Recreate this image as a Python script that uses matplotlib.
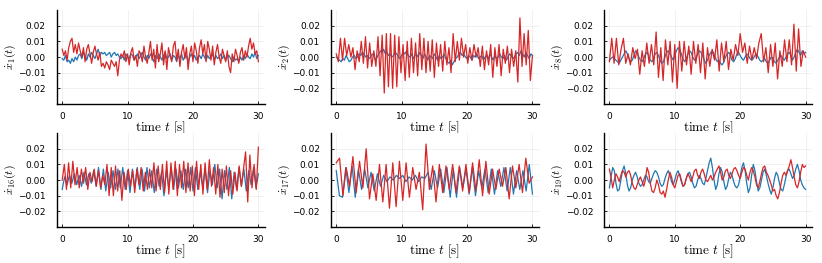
import numpy as np
import matplotlib
matplotlib.use("Agg")
import matplotlib.pyplot as plt

# velocities, in units of 1e-3,
# each series sampled evenly over 0..30 s
x1_blue = [-1, -2, 1, -3, -2, -4, -1, -3, 0, -2, 1, 2, -1, 3, 1, -2, 2, 0, 3, 1, -1,
           2, 5, 1, 3, 2, 3, 1, 2, 3, 0, 2, 3, 1, 2, 0, -1,
           1, -2, 2, 0, -1, 2, 1, -2, 0, 2, -1, 1, 3, 0, -2, 1,
           -1, 2, 0, -3, 1, -1, 2, 0, -2, 1, 3, -1, 0, 2, -2, 1,
           0, -3, 1, -1, 2, -2, 0, 1, -3, 0, 2, -1, 1, -2, 0, 1,
           -1, 2, 0, -2, 1, -1, 0, 2, -2, 1, -1, 0, 2, -1, 1, -2,
           0, 1, -1, -3, 0, -2, -1, -3, 0, -2, 1, -1, 2, 0, -1, 2,
           0, 3, -1, 1]
x1_red = [5, 1, 4, -2, 6, 10, 12, 3, 8, 2, 9, 4, 0, 6, -3, 5, 8, 2, -4, 3, 7,
          2, -2, 3, -6, -4, -7, -3, -5, -8, -2, -4, -6, -3, -12, -2, 2,
          0, 4, -3, 2, -5, 3, 6, -2, 1, -6, 4, 2, -3, 7, 0, -4,
          3, 10, -2, 5, -7, 8, -3, 2, 9, -5, 4, -8, 6, 1, -3, 7,
          10, -2, 5, -6, 3, 8, -1, 6, -8, 2, 7, -3, 9, 4, -4, 6,
          11, 2, 8, -3, 10, 5, -2, 7, -5, 3, 8, 0, -4, 5, 1, -3,
          4, -6, -10, 2, -3, 5, 1, -4, 3, 6, -2, 4, 0, 7, 12, 5,
          9, 2, 4, -3]

x2_blue = [0, -1, -2, -3, -1, -2, 1, -1, -3, -2, 0, 1, -1, 0, 2, 1, 3, 2, 0, 1, -1,
           0, 2, 1, -2, 0, 2, 4, 3, 5, 2, 3, 1, 2, 0, 1, 3, 2, 0, -1, 1,
           3, 2, 4, 1, 0, 2, -1, 1, 2, 0, 3, 1, -1, 2, 0, -2, 1, 0, -1, 2,
           0, -2, 1, -1, 0, 2, -1, -3, -4, -2, -5, -3, -1, 0, 2, 3, 1, 2, 0, -1,
           1, 0, -2, 1, 0, 2, -1, 0, 1, -2, 0, 1, -1, 2, 0, -2, 1, -1, 0, 2,
           0, -1, 1, -2, 0, 2, 1, -1, 0, 2, 3, 1, 4, 2, 0, 3, 1, -1, 2, 1]
x2_red = [2, -3, 12, -2, 12, 1, 8, 0, 6, -8,
          4, -3, 10, -4, 13, -7, 9, -6, 4, -6,
          13, -12, 14, -23, 15, -19, 15, -20, 14, -19,
          13, -10, 8, -15, 10, -13, 12, -10, 9, -12,
          15, -8, 12, -10, 10, -9, 11, -13, 9, -6,
          8, -9, 10, -5, 6, -10, 15, -3, 10, -2,
          12, 0, 8, -4, 6, -2, 8, 0, 6, -6,
          7, -8, 4, -5, 8, -13, 6, -6, 8, -12,
          5, -4, 7, -10, 5, -6, 4, -16, 25, -6,
          15, -5, 17, -15, 1]

x8_blue = [-2, -1, 0, -1, -2, -3, -4, -2, 0, 2, 4, 2, -1, -3, -2, 1, 4, 3, 0, -2, -3,
           -1, 2, 3, 1, -2, -3, -1, 2, 3, 1, -2, -4, -3, 0, 3, 4, 2, 0, -2, 1,
           4, 6, 5, 2, -1, -3, -1, 2, 4, 3, 0, -2, -1, 2, 4, 3, 1, -2, -4, -2,
           1, 3, 4, 2, -1, -3, -2, -4, -5, -3, 0, 2, 3, 1, -2, -3, -1, 2, 3, 1,
           -1, -2, 0, 2, 1, -1, -2, -1, 1, 2, 0, -2, -3, -2, -1, -3, -4, -2, 0, -1,
           -3, -4, -2, 0, 1, -1, -2, 0, 2, 3, 1, -2, 0, 3, 5, 3, 1, 4, 2, 3]
x8_red = [-3, 12, -4, 12, -5, 5, 12, -4, 2, -5,
          6, -1, 5, -11, 4, -6, 9, -4, 8, -5,
          16, -13, 6, -15, 11, -5, 10, -16, 8, -20,
          10, -9, 10, -5, 7, -11, 10, -4, 8, -10,
          9, -14, 6, -6, 5, -2, 11, -9, 9, -3,
          10, -8, 5, -2, 8, 1, 15, 3, 9, -4,
          7, -2, 6, -1, 9, 15, -3, 6, -10, 8,
          -6, 9, -14, 4, -6, 11, -3, 11, -5, 21,
          -9, 18, -6, 4, 0]

x16_blue = [-6, 2, -3, 3, -2, 4, -3, 3, -4, 5,
            -3, 4, -2, 6, -4, 8, -6, 7, -7, 5,
            -5, 6, -6, 7, -5, 8, -6, 6, -8, 7,
            -5, 8, -6, 7, -7, 8, -5, 6, -8, 7,
            -4, 5, -10, 6, -5, 8, -6, 7, -5, 6,
            -6, 7, -5, 8,
            -7, 8, -6, 5, -4, 7, -8, 6, -3, 10,
            -5, 7, -12, 6, -6, 8, -12,
            5, -6, 8, -4, 7, -7, 6, -3, 8, -5, 4]
x16_red = [0, 10, -6, 11, -5, 12, -3, 8, -5, 7,
           -2, 8, -6, 5, -1, 7, -4, 6, -5, 3,
           -3, 10, -10, 8, -10, 9, -7, 6, -13, 5,
           -6, 7, -4, 6, -8, 7, -3, 8, -7, 5,
           -6, 7, -5, 11, -7, 9, -6, 10, -8, 12,
           -9, 11, -6, 12, -10, 10, -5, 12, -8, 11,
           -7, 9, -10, 12, -6, 10, -9, 11, -6, 13,
           -4, 8, -9, 10, -11, 7, -8, 9, -10, 6,
           -9, 5, -7, 9, -4, 7, 18, -14, 16, -5,
           10, -6, 21]

x17_blue = [6, -10, -11, 8, -8, 9, -11, 7, -6, 7,
            -5, 5, -7, 4, -4, 3, -1, 2, 0, 3,
            1, 3, -1, 2, 0, 3, -1, 2, 1, 5,
            -6, 6, -5, 7, -8, 8, -11, 7, -11, 8,
            -5, 7, -9, 8, -10, 6, -5, 7, -8, 7,
            -9, 6, -4, 8, -7, 8, -9, 6, -6, 6,
            -7, 10, -9]
x17_red = [11, 14, -10, 8, -4, 15, -8, 12, -5, 20,
           -12, 4, -13, 10, -14, 10, -18, 11,
           -17, 12, -13, 11, -11, 8, -6, 5, -19, 23,
           -6, 9, -14, 10, -8, 9, -6, 10, -8, 9,
           -7, 10, -8, 11, -7, 13, -10, 12, -9, 7,
           -6, 7, -4, 8, -12, 9, -5, 10, -8, 14,
           -2, 2]

x19_blue = [-5, 2, 8, 6, -2, -7, -6, 0, 6, 9, 4, -3, -7, -5, 0, 3, 5, 2, -2, -4, -3,
            0, 3, 2, -1, -2, 1, 4, 6, 5, 2, -2, -4, -3, 1, 4, 6, 3, -1, -3, 0,
            4, 6, 3, -1, -4, -3, 1, 4, 5, 2, -2, -5, -4, 0, 3, 1, -2, -3, 1, 6,
            11, 14, 8, 0, -6, -3, 4, 8, 5, -1, -6, -4, 1, 5, 3, -1, -4, -5, -3, 2,
            8, 11, 6, -2, -8, -5, 3, 10, 6, -1, -7, -5, 0, 5, 7, 3, -2, -6, -9, -5,
            1, 5, 3, -2, -6, -7, -3, 2, 6, 7, 4, 1, 3, 7, 10, 6, 0, -3, -5, -6]
x19_red = [7, 2, -5, 0, 4, 2, -1, 3, 6, 5, 2, 5, 6, 3, -2, -5, -6, -3, 0, 2, -1,
           -4, 0, 8, 5, -2, -7, -8, -5, 0, -3, -8, -9, -7, -11, -6, 0, 5, 2, -3, -5,
           -1, 3, 4, 0, -4, -3, 1, 4, 2, -1, 2, 6, 7, 3, 1, 5, 7, 4, 0, -1,
           1, 3, 0, 2, 5, 7, 9, 5, 0, 2, 6, 7, 3, 1, 4, 7, 8, 6, 3, 1,
           5, 8, 7, 3, 0, 5, 8, 6, 2, -3, -5, -1, 4, 8, 9, 5, 3, 0, -3, -7,
           -6, -10, -12, -8, -2, 3, 5, 3, 6, 9, 13, 8, 2, -3, -5, -1, 5, 10, 8, 9]

labels = ["1", "2", "8", "16", "17", "19"]
blues = [x1_blue, x2_blue, x8_blue, x16_blue, x17_blue, x19_blue]
reds = [x1_red, x2_red, x8_red, x16_red, x17_red, x19_red]

yticks = [-0.02, -0.01, 0.0, 0.01, 0.02]
ytick_labels = ["\u22120.02", "\u22120.01", "0.00", "0.01", "0.02"]
xticks = [0, 10, 20, 30]

plt.rcParams['mathtext.fontset'] = 'cm'
plt.rcParams['font.family'] = 'DejaVu Sans'

fig = plt.figure(figsize=(8.22, 2.63), dpi=100)

lefts = [0.0693, 0.4027, 0.735]
bottoms = [0.6046, 0.1369]
w, h = 0.253, 0.357

for k in range(6):
    r, c = divmod(k, 3)
    ax = fig.add_axes([lefts[c], bottoms[r], w, h])
    yb = np.array(blues[k]) * 1e-3
    yr = np.array(reds[k]) * 1e-3
    ax.plot(np.linspace(0, 30, len(yb)), yb, color='#1f77b4', lw=0.9)
    ax.plot(np.linspace(0, 30, len(yr)), yr, color='#d62728', lw=0.9)
    ax.set_xlim(-0.8, 31.0)
    ax.set_ylim(-0.03, 0.03)
    ax.set_xticks(xticks)
    ax.set_yticks(yticks)
    ax.set_yticklabels(ytick_labels)
    ax.grid(True, color='black', alpha=0.08, lw=0.5)
    ax.spines['top'].set_visible(False)
    ax.spines['right'].set_visible(False)
    ax.spines['left'].set_linewidth(1.0)
    ax.spines['bottom'].set_linewidth(1.0)
    ax.tick_params(direction='in', length=2.5, width=0.6, labelsize=6.5)
    ax.tick_params(axis='y', pad=8)
    ax.tick_params(axis='x', pad=6)
    ax.set_xlabel(r"$\mathrm{time}\ t\ [\mathrm{s}]$", fontsize=9.5, labelpad=-1)
    ax.set_ylabel(r"$\dot{x}_{%s}(t)$" % labels[k], fontsize=8.5, labelpad=0.5)

fig.savefig("out.png", dpi=100)
